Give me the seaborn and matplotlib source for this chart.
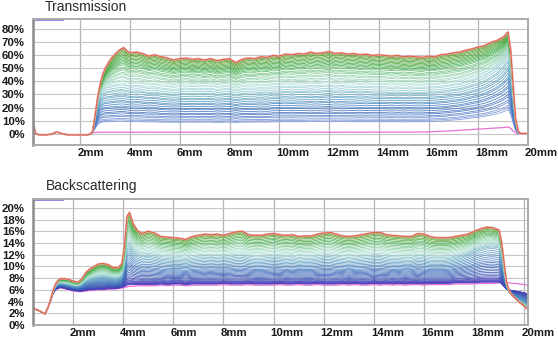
import numpy as np
import pandas as pd
import seaborn as sns
import matplotlib.pyplot as plt
from matplotlib.colors import LinearSegmentedColormap
from matplotlib.transforms import ScaledTranslation

# ---------------- Transmission (position in mm, value in %) ----------------
trans_pos = ([0.1, 0.2, 0.35, 0.6, 0.85, 1.05, 1.25, 1.5, 1.75, 2.0, 2.25, 2.4, 2.5,
              2.6, 2.7, 2.8, 2.9, 3.0, 3.15, 3.3, 3.45, 3.6, 3.75, 3.9, 4.05]
             + list(np.arange(4.25, 19.01, 0.25))
             + [19.1, 19.2, 19.3, 19.4, 19.5, 19.6, 19.7, 19.9, 20.0])

# first scan (pink)
trans_first = ([9, 0, -1, -1, -0.5, 1.2, 0, -1, -1, -1, -1, -0.5, 0.5,
                0.8, 1, 1, 1, 1, 1, 1, 1, 1, 1, 1, 1]
               + [1.0, 1.0, 1.1, 1.0, 1.0, 1.0, 1.1, 1.0, 1.0, 1.0,
                  1.0, 1.1, 1.0, 1.0, 1.0, 1.0, 1.0, 1.1, 1.0, 1.0,
                  1.0, 1.0, 1.0, 1.1, 1.0, 1.0, 1.0, 1.0, 1.0, 1.1,
                  1.0, 1.0, 1.0, 1.0, 1.1, 1.0, 1.0, 1.0, 1.1, 1.1,
                  1.1, 1.1, 1.1,
                  1.1, 1.1, 1.2, 1.2, 1.3, 1.5, 1.7, 1.9, 2.2, 2.5,
                  2.8, 3.1, 3.4, 3.7, 4.0, 4.3, 4.6]
               + [4.8, 5.0, 4.0, 2.0, 0.6, 0.1, 0, 0, 0])

# a scan in the middle of the fan
trans_mid = ([9, 0, -1, -1, -0.5, 1.2, 0, -1, -1, -1, -1, -0.5, 2,
              14, 25, 31, 33.5, 34.5, 35, 35.5, 36, 36.5, 36.5, 35.5, 35]
             + [35.5, 35, 34, 34.5, 33.5, 33, 32.5, 33, 33.5, 33,
                33.5, 33, 33.5, 32.5, 33, 33.5, 32, 33, 33.5, 33.5,
                34, 33.5, 34.5, 34.5, 35, 34.5, 35, 35, 35.5, 35,
                35.5, 36, 35, 35.5, 35, 35, 34.5, 35, 34.5, 34.5,
                34.5, 34, 34.5, 34, 34.5, 34, 34, 34.5, 34.5, 35,
                35.5, 36.5, 37, 38.5, 40, 41.5, 43.5, 46.5, 50, 55]
             + [58, 61, 50, 29, 9, 1.5, 0, 0, 0])

# last scan (top, orange)
trans_final = ([9, 0, -1, -1, -0.5, 1.2, 0, -1, -1, -1, -1, -0.5, 2,
                14, 28, 38, 45, 50, 55, 59, 62, 64.5, 66, 63, 62]
               + [62.5, 61.5, 59.5, 60.5, 59, 58, 56.5, 57.5, 58, 57,
                  57.5, 56.5, 57.5, 56, 57, 57.5, 54.5, 57, 58, 57.5,
                  59, 58.5, 60, 59.5, 61, 60.5, 61.5, 61, 62.5, 61.5,
                  62, 63, 61.5, 62, 61, 61.5, 60.5, 61, 60, 60.5,
                  60, 59.5, 60, 59, 59.5, 59, 58.5, 59.5, 59, 60.5,
                  61, 62, 62.5, 64, 65, 66.5, 67.5, 70, 71.5, 74]
               + [76, 78, 65, 38, 12, 2, 0, 0, 0])

trans_ref = [1.0, 34.5, 59.5]
trans_levels = [9.0, 10.0, 11.0, 12.5, 13.5, 15.0, 16.0, 17.5, 19.0, 20.0, 21.5,
                23.0, 24.0, 25.5, 27.0, 28.0, 29.5, 31.0, 32.0, 33.5, 35.0, 36.0,
                37.5, 38.5, 40.0, 41.0, 42.5, 43.5, 45.0, 46.0, 47.0, 48.5, 49.5,
                50.5, 51.5, 52.5, 53.5, 54.5, 55.5, 56.5, 57.5, 58.3, 59.0]
trans_colors = ['#9a92e0', '#8aa0e0', '#4070c0', '#4a88c0', '#6cb0c2',
                '#b0e0d8', '#82cc98', '#3caa40', '#5e9620']

# ---------------- Backscattering ----------------
back_pos = ([0.4, 0.55, 0.7, 0.88, 1.0, 1.1, 1.2, 1.3, 1.4, 1.5, 1.65, 1.8, 2.0,
             2.2, 2.35, 2.5, 2.65, 2.8, 3.0, 3.2, 3.4, 3.6, 3.8, 3.95, 4.05, 4.15,
             4.25, 4.4, 4.55, 4.75]
            + list(np.arange(5.0, 19.01, 0.25))
            + [19.1, 19.2, 19.3, 19.4, 19.5, 19.65, 19.8, 20.0, 20.15])

back_first = ([2.9, 2.6, 2.3, 1.9, 3.0, 4.1, 5.4, 6.0, 6.2, 6.3, 6.2, 6.0, 5.8,
               5.7, 5.7, 5.8, 5.9, 5.9, 6.0, 6.0, 6.1, 6.1, 6.2, 6.3, 6.4, 6.5,
               6.6, 6.6, 6.7, 6.7]
              + [6.7, 6.7, 6.8, 6.7, 6.8, 6.8, 6.7, 6.8, 6.8, 6.8,
                 6.8, 6.8, 6.9, 6.8, 6.8, 6.8, 6.9, 6.8, 6.8, 6.8,
                 6.8, 6.9, 6.8, 6.8, 6.9, 6.8, 6.8, 6.9, 6.8, 6.8,
                 6.8, 6.9, 6.8, 6.9, 6.8, 6.8, 6.9, 6.8, 6.9, 6.8,
                 6.9, 6.8, 6.9, 6.9, 6.8, 6.9, 6.9, 6.9, 6.9, 7.0,
                 7.0, 7.0, 7.0, 7.1, 7.1, 7.1, 7.2]
              + [7.2, 7.2, 7.2, 7.2, 7.1, 7.1, 7.0, 6.9, 6.8])

back_low = ([2.9, 2.6, 2.3, 1.9, 3.0, 4.1, 5.4, 6.1, 6.3, 6.4, 6.3, 6.1, 5.9,
             5.8, 5.8, 5.9, 6.0, 6.0, 6.1, 6.1, 6.2, 6.2, 6.3, 6.4, 6.6, 6.8,
             6.9, 6.9, 6.9, 6.9]
            + [6.9, 6.9, 7.0, 6.9, 7.0, 7.0, 6.9, 7.0, 7.0, 7.0,
               7.0, 7.0, 7.1, 7.0, 7.0, 7.0, 7.1, 7.0, 7.0, 7.0,
               7.0, 7.1, 7.0, 7.0, 7.1, 7.0, 7.0, 7.1, 7.0, 7.0,
               7.0, 7.1, 7.0, 7.1, 7.0, 7.0, 7.1, 7.0, 7.1, 7.0,
               7.1, 7.0, 7.1, 7.1, 7.0, 7.1, 7.1, 7.1, 7.1, 7.2,
               7.2, 7.2, 7.2, 7.3, 7.3, 7.3, 7.3]
            + [7.0, 6.5, 6.1, 6.0, 5.9, 5.8, 5.7, 5.5, 5.3])

back_mid = ([2.9, 2.6, 2.3, 1.9, 3.0, 4.2, 5.7, 6.6, 7.0, 7.1, 7.0, 6.9, 6.7,
             6.6, 6.9, 7.4, 7.7, 7.9, 8.1, 8.2, 8.1, 7.9, 7.9, 8.3, 10.0, 12.8,
             13.2, 12.3, 11.8, 11.5]
            + [11.6, 11.4, 11.1, 11.0, 10.9, 10.9, 10.8, 11.0, 11.1, 11.2,
               11.1, 11.2, 11.1, 11.2, 11.4, 11.4, 11.1, 11.0, 11.0, 11.1,
               11.2, 11.1, 11.0, 11.1, 10.9, 11.0, 11.0, 11.1, 11.3, 11.3,
               11.1, 11.0, 10.9, 11.0, 11.1, 11.2, 11.3, 11.3, 11.1, 11.0,
               11.0, 10.9, 10.9, 11.2, 11.1, 10.9, 10.9, 10.9, 11.0, 11.2,
               11.5, 11.9, 12.4, 12.8, 13.1, 13.2, 13.0]
            + [11.5, 8.8, 6.6, 5.5, 5.0, 4.5, 4.1, 3.6, 3.2])

back_final = ([2.9, 2.6, 2.3, 1.9, 3.0, 4.3, 5.9, 7.0, 7.6, 7.9, 7.9, 7.8, 7.5,
               7.3, 7.9, 8.9, 9.5, 9.9, 10.4, 10.5, 10.3, 9.8, 9.8, 10.5, 13.5,
               18.5, 19.2, 17.3, 16.2, 15.6]
              + [16.0, 15.7, 15.1, 15.0, 14.9, 14.8, 14.6, 15.1, 15.3, 15.5,
                 15.4, 15.5, 15.3, 15.6, 15.9, 16.0, 15.4, 15.3, 15.3, 15.5,
                 15.6, 15.4, 15.3, 15.4, 15.1, 15.2, 15.2, 15.5, 15.7, 15.8,
                 15.5, 15.2, 15.1, 15.2, 15.4, 15.6, 15.8, 15.8, 15.4, 15.3,
                 15.2, 15.1, 15.1, 15.6, 15.5, 15.1, 14.9, 14.9, 14.9, 15.1,
                 15.3, 15.5, 16.0, 16.4, 16.7, 16.6, 16.2]
              + [14.0, 10.5, 7.2, 5.9, 5.2, 4.5, 3.9, 3.2, 2.6])

back_ref = [7.0, 11.2, 15.6]
back_levels = [7.0, 7.05, 7.1, 7.15, 7.2, 7.3, 7.4, 7.5, 7.65, 7.8, 8.0, 8.2, 8.4,
               8.6, 8.8, 9.0, 9.2, 9.4, 9.6, 9.85, 10.1, 10.35, 10.6, 10.85, 11.1,
               11.35, 11.6, 11.85, 12.1, 12.35, 12.6, 12.85, 13.1, 13.35, 13.6,
               13.85, 14.1, 14.35, 14.6, 14.85, 15.1, 15.3, 15.45]
back_colors = ['#5040c0', '#3450b0', '#4070bc', '#4a88c0', '#6cb0c2',
               '#b0e0d8', '#82cc98', '#3caa40', '#6a9420']

x_ticks = [2, 4, 6, 8, 10, 12, 14, 16, 18, 20]


def build_curves(pos, profiles, ref, levels):
    stack = np.array(profiles)
    frames = []
    for i, lv in enumerate(levels):
        vals = [np.interp(lv, ref, stack[:, j]) for j in range(stack.shape[1])]
        frames.append(pd.DataFrame({'pos': pos, 'val': vals, 'scan': f's{i:02d}'}))
    return pd.concat(frames, ignore_index=True)


def draw_panel(ax, pos, first, profiles, ref, levels, anchors, xlim, ylim, yticks):
    cmap = LinearSegmentedColormap.from_list('scan', anchors)
    df = build_curves(pos, profiles, ref, levels)
    names = [f's{i:02d}' for i in range(len(levels))]
    pal = {n: cmap((lv - ref[0]) / (ref[-1] - ref[0])) for n, lv in zip(names, levels)}

    sns.lineplot(x=pos, y=first, color='#e870d0', lw=0.9, ax=ax)
    sns.lineplot(data=df, x='pos', y='val', hue='scan', hue_order=names, palette=pal,
                 estimator=None, sort=False, legend=False, lw=0.6, alpha=0.9, ax=ax)
    sns.lineplot(x=pos, y=profiles[-1], color='#f4a8b8', lw=1.5, ax=ax)
    sns.lineplot(x=pos, y=profiles[-1], color='#d8643a', lw=0.7, ax=ax)

    ax.set_xlim(*xlim)
    ax.set_ylim(*ylim)
    ax.set_xticks(x_ticks)
    ax.set_xticklabels([f'{t}mm' for t in x_ticks], ha='left')
    ax.set_yticks(yticks)
    ax.set_yticklabels([f'{t}%' for t in yticks])
    ax.set_xlabel('')
    ax.set_ylabel('')
    ax.grid(True, color='#c6c6c6', lw=0.8)
    ax.xaxis.grid(True, color='#b4b4bc', lw=0.9)
    ax.set_axisbelow(True)
    ax.tick_params(axis='x', length=0, pad=2, labelsize=8.2, labelcolor='#1a1a1a')
    ax.tick_params(axis='y', length=2, color='#9090d8', pad=4, labelsize=8.2,
                   labelcolor='#1a1a1a')
    shift = ScaledTranslation(-3 / 100, 0, ax.figure.dpi_scale_trans)
    for lab in ax.get_xticklabels():
        lab.set_transform(lab.get_transform() + shift)
    for lab in ax.get_xticklabels() + ax.get_yticklabels():
        lab.set_fontweight('bold')
    for side in ['top', 'right', 'bottom']:
        ax.spines[side].set_color('#ababab')
        ax.spines[side].set_linewidth(1.4)
    ax.spines['left'].set_color('#8a8a8a')
    ax.spines['left'].set_linewidth(1.8)
    ax.plot([0.005, 0.06], [0.995, 0.995], transform=ax.transAxes,
            color='#8c8ce6', lw=1.5, clip_on=False)


sns.set_style('white')
plt.rcParams['font.family'] = ['Liberation Sans', 'DejaVu Sans']

fig = plt.figure(figsize=(5.58, 3.41), dpi=100)
ax_t = fig.add_axes([33 / 558, 1 - 145 / 341, 495 / 558, 126 / 341])
ax_b = fig.add_axes([33 / 558, 1 - 325 / 341, 495 / 558, 126 / 341])

draw_panel(ax_t, trans_pos, trans_first, [trans_first, trans_mid, trans_final],
           trans_ref, trans_levels, trans_colors, (0.1, 20.0), (-8.8, 88),
           [0, 10, 20, 30, 40, 50, 60, 70, 80])
draw_panel(ax_b, back_pos, back_first, [back_low, back_mid, back_final],
           back_ref, back_levels, back_colors, (0.4, 20.15), (0, 21.5),
           [0, 2, 4, 6, 8, 10, 12, 14, 16, 18, 20])

fig.text(45 / 558, 1 - 7 / 341, 'Transmission', fontsize=10, color='#2a2a2a', va='center')
fig.text(46 / 558, 1 - 186 / 341, 'Backscattering', fontsize=10, color='#2a2a2a', va='center')

fig.savefig('out.png', dpi=100)
